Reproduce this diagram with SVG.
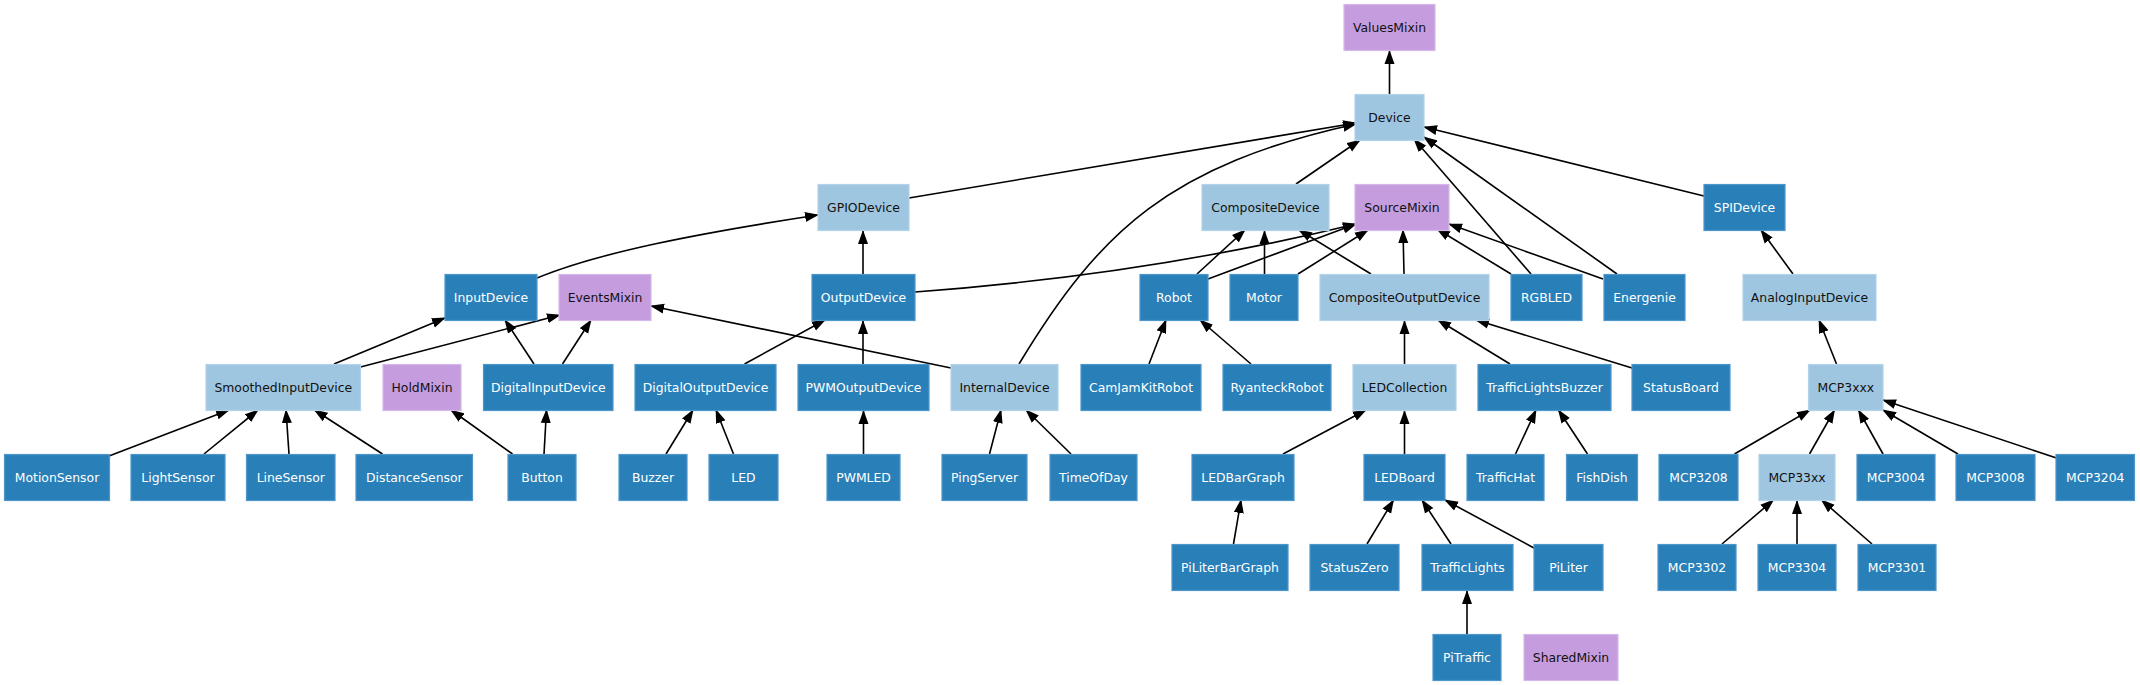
<svg xmlns="http://www.w3.org/2000/svg" width="2140" height="685" viewBox="0 0 2140 685">
<style>
rect{stroke-width:1.2}
.d rect{fill:#2980b9;stroke:#4f97cb}
.l rect{fill:#9fc6e0;stroke:#b3d3ea}
.m rect{fill:#c59ddf;stroke:#d6b8ea}
text{font-family:"DejaVu Sans",sans-serif;font-size:12.4px;text-anchor:middle}
.d text{fill:#ffffff}
.l text,.m text{fill:#111111}
#edges path{fill:none;stroke:#000;stroke-width:1.6;marker-end:url(#arr)}
</style>
<defs>
<marker id="arr" markerUnits="userSpaceOnUse" markerWidth="15" markerHeight="11" viewBox="0 -5.5 15 11" refX="13" refY="0" orient="auto"><path d="M0,-5 L14,0 L0,5 z" fill="#000"/></marker>
</defs>
<rect width="2140" height="685" fill="#fff"/>
<g id="edges">
<path d="M1389.5,94 L1389.5,51"/>
<path d="M909,198 L1356,123"/>
<path d="M1019,364 C1100,230 1170,165 1356,124"/>
<path d="M1296,184 L1360,140"/>
<path d="M1704,196 L1424,127"/>
<path d="M1531,274 L1414,139"/>
<path d="M1617,274 L1424,137"/>
<path d="M537,278 C600,252 700,233 818,215"/>
<path d="M863,274 L863,231"/>
<path d="M915,292 C1050,282 1200,262 1356,224"/>
<path d="M1197,274 L1245,230"/>
<path d="M1208,279 L1356,224"/>
<path d="M1264.5,274 L1264.5,231"/>
<path d="M1298,274 L1368,230"/>
<path d="M1371,274 L1299,230"/>
<path d="M1404,274 L1403,230"/>
<path d="M1511,274 L1437,229"/>
<path d="M1603,279 L1449,224"/>
<path d="M1793,274 L1761,230"/>
<path d="M334,364 L445,318"/>
<path d="M360.5,367 L560,315"/>
<path d="M534,364 L505,320"/>
<path d="M562.5,364 L591,320"/>
<path d="M951,368 L651,306"/>
<path d="M744.5,364 L825,320"/>
<path d="M863,364 L863,321"/>
<path d="M1149,364 L1166,320"/>
<path d="M1251,364 L1200,320"/>
<path d="M1404.5,364 L1404.5,321"/>
<path d="M1510,364 L1438,320"/>
<path d="M1632,368 L1476,320"/>
<path d="M1836.5,364 L1819,320"/>
<path d="M109,456 L229,410"/>
<path d="M204,454 L258,410"/>
<path d="M289,454 L286,410"/>
<path d="M382.5,454 L314.5,410"/>
<path d="M512.5,454 L451,410"/>
<path d="M544,454 L546.5,410"/>
<path d="M666,454 L693,410"/>
<path d="M733.5,454 L716,410"/>
<path d="M863.5,454 L863.5,411"/>
<path d="M989.5,454 L1001,410"/>
<path d="M1071,454 L1026,410"/>
<path d="M1283,454 L1366,410"/>
<path d="M1404.5,454 L1404.5,411"/>
<path d="M1515.5,454 L1536,410"/>
<path d="M1587.5,454 L1558.5,410"/>
<path d="M1734.5,454 L1810,410"/>
<path d="M1809.5,454 L1834.5,410"/>
<path d="M1883,454 L1858.5,410"/>
<path d="M1958,454 L1883,410"/>
<path d="M2056.5,458 L1883,400"/>
<path d="M1233.5,544 L1241,500"/>
<path d="M1367,544 L1393.5,500"/>
<path d="M1451,544 L1422,500"/>
<path d="M1534,548 L1445,500"/>
<path d="M1722,544 L1773.5,500"/>
<path d="M1797,544 L1797,501"/>
<path d="M1872,544 L1821.5,500"/>
<path d="M1467,634 L1467,591"/>
</g>
<g id="ValuesMixin" class="m"><rect x="1344" y="4.5" width="91" height="46"/><text x="1389.5" y="31.5">ValuesMixin</text></g>
<g id="Device" class="l"><rect x="1355" y="94.5" width="69" height="46"/><text x="1389.5" y="121.5">Device</text></g>
<g id="GPIODevice" class="l"><rect x="818" y="184.5" width="91" height="46"/><text x="863.5" y="211.5">GPIODevice</text></g>
<g id="CompositeDevice" class="l"><rect x="1202" y="184.5" width="127" height="46"/><text x="1265.5" y="211.5">CompositeDevice</text></g>
<g id="SourceMixin" class="m"><rect x="1355" y="184.5" width="94" height="46"/><text x="1402" y="211.5">SourceMixin</text></g>
<g id="SPIDevice" class="d"><rect x="1704" y="184.5" width="81" height="46"/><text x="1744.5" y="211.5">SPIDevice</text></g>
<g id="InputDevice" class="d"><rect x="445" y="274.5" width="92" height="46"/><text x="491" y="301.5">InputDevice</text></g>
<g id="EventsMixin" class="m"><rect x="559" y="274.5" width="92" height="46"/><text x="605" y="301.5">EventsMixin</text></g>
<g id="OutputDevice" class="d"><rect x="812" y="274.5" width="103" height="46"/><text x="863.5" y="301.5">OutputDevice</text></g>
<g id="Robot" class="d"><rect x="1140" y="274.5" width="68" height="46"/><text x="1174" y="301.5">Robot</text></g>
<g id="Motor" class="d"><rect x="1230" y="274.5" width="68" height="46"/><text x="1264" y="301.5">Motor</text></g>
<g id="CompositeOutputDevice" class="l"><rect x="1320" y="274.5" width="169" height="46"/><text x="1404.5" y="301.5">CompositeOutputDevice</text></g>
<g id="RGBLED" class="d"><rect x="1511" y="274.5" width="71" height="46"/><text x="1546.5" y="301.5">RGBLED</text></g>
<g id="Energenie" class="d"><rect x="1604" y="274.5" width="81" height="46"/><text x="1644.5" y="301.5">Energenie</text></g>
<g id="AnalogInputDevice" class="l"><rect x="1743" y="274.5" width="133" height="46"/><text x="1809.5" y="301.5">AnalogInputDevice</text></g>
<g id="SmoothedInputDevice" class="l"><rect x="206" y="364.5" width="154.5" height="46"/><text x="283.3" y="391.5">SmoothedInputDevice</text></g>
<g id="HoldMixin" class="m"><rect x="383" y="364.5" width="78" height="46"/><text x="422" y="391.5">HoldMixin</text></g>
<g id="DigitalInputDevice" class="d"><rect x="483.5" y="364.5" width="129.5" height="46"/><text x="548.3" y="391.5">DigitalInputDevice</text></g>
<g id="DigitalOutputDevice" class="d"><rect x="635" y="364.5" width="141" height="46"/><text x="705.5" y="391.5">DigitalOutputDevice</text></g>
<g id="PWMOutputDevice" class="d"><rect x="798" y="364.5" width="131" height="46"/><text x="863.5" y="391.5">PWMOutputDevice</text></g>
<g id="InternalDevice" class="l"><rect x="951" y="364.5" width="107" height="46"/><text x="1004.5" y="391.5">InternalDevice</text></g>
<g id="CamJamKitRobot" class="d"><rect x="1081" y="364.5" width="120" height="46"/><text x="1141" y="391.5">CamJamKitRobot</text></g>
<g id="RyanteckRobot" class="d"><rect x="1223" y="364.5" width="108" height="46"/><text x="1277" y="391.5">RyanteckRobot</text></g>
<g id="LEDCollection" class="l"><rect x="1353" y="364.5" width="103" height="46"/><text x="1404.5" y="391.5">LEDCollection</text></g>
<g id="TrafficLightsBuzzer" class="d"><rect x="1478" y="364.5" width="133" height="46"/><text x="1544.5" y="391.5">TrafficLightsBuzzer</text></g>
<g id="StatusBoard" class="d"><rect x="1632" y="364.5" width="98" height="46"/><text x="1681" y="391.5">StatusBoard</text></g>
<g id="MCP3xxx" class="l"><rect x="1808.5" y="364.5" width="74.5" height="46"/><text x="1845.8" y="391.5">MCP3xxx</text></g>
<g id="MotionSensor" class="d"><rect x="4.5" y="454.5" width="105" height="46"/><text x="57" y="481.5">MotionSensor</text></g>
<g id="LightSensor" class="d"><rect x="131" y="454.5" width="94" height="46"/><text x="178" y="481.5">LightSensor</text></g>
<g id="LineSensor" class="d"><rect x="246.5" y="454.5" width="88.5" height="46"/><text x="290.8" y="481.5">LineSensor</text></g>
<g id="DistanceSensor" class="d"><rect x="356" y="454.5" width="116.5" height="46"/><text x="414.3" y="481.5">DistanceSensor</text></g>
<g id="Button" class="d"><rect x="508" y="454.5" width="68" height="46"/><text x="542" y="481.5">Button</text></g>
<g id="Buzzer" class="d"><rect x="619" y="454.5" width="68" height="46"/><text x="653" y="481.5">Buzzer</text></g>
<g id="LED" class="d"><rect x="709" y="454.5" width="69" height="46"/><text x="743.5" y="481.5">LED</text></g>
<g id="PWMLED" class="d"><rect x="827" y="454.5" width="73" height="46"/><text x="863.5" y="481.5">PWMLED</text></g>
<g id="PingServer" class="d"><rect x="942" y="454.5" width="85" height="46"/><text x="984.5" y="481.5">PingServer</text></g>
<g id="TimeOfDay" class="d"><rect x="1050" y="454.5" width="87" height="46"/><text x="1093.5" y="481.5">TimeOfDay</text></g>
<g id="LEDBarGraph" class="d"><rect x="1192" y="454.5" width="102" height="46"/><text x="1243" y="481.5">LEDBarGraph</text></g>
<g id="LEDBoard" class="d"><rect x="1364" y="454.5" width="81" height="46"/><text x="1404.5" y="481.5">LEDBoard</text></g>
<g id="TrafficHat" class="d"><rect x="1467" y="454.5" width="77" height="46"/><text x="1505.5" y="481.5">TrafficHat</text></g>
<g id="FishDish" class="d"><rect x="1566.5" y="454.5" width="71" height="46"/><text x="1602" y="481.5">FishDish</text></g>
<g id="MCP3208" class="d"><rect x="1659" y="454.5" width="79" height="46"/><text x="1698.5" y="481.5">MCP3208</text></g>
<g id="MCP33xx" class="l"><rect x="1759" y="454.5" width="76" height="46"/><text x="1797" y="481.5">MCP33xx</text></g>
<g id="MCP3004" class="d"><rect x="1857" y="454.5" width="78" height="46"/><text x="1896" y="481.5">MCP3004</text></g>
<g id="MCP3008" class="d"><rect x="1956" y="454.5" width="79" height="46"/><text x="1995.5" y="481.5">MCP3008</text></g>
<g id="MCP3204" class="d"><rect x="2056" y="454.5" width="78.5" height="46"/><text x="2095.3" y="481.5">MCP3204</text></g>
<g id="PiLiterBarGraph" class="d"><rect x="1172" y="544.5" width="116" height="46"/><text x="1230" y="571.5">PiLiterBarGraph</text></g>
<g id="StatusZero" class="d"><rect x="1310" y="544.5" width="89" height="46"/><text x="1354.5" y="571.5">StatusZero</text></g>
<g id="TrafficLights" class="d"><rect x="1422" y="544.5" width="91" height="46"/><text x="1467.5" y="571.5">TrafficLights</text></g>
<g id="PiLiter" class="d"><rect x="1534" y="544.5" width="69" height="46"/><text x="1568.5" y="571.5">PiLiter</text></g>
<g id="MCP3302" class="d"><rect x="1658" y="544.5" width="78" height="46"/><text x="1697" y="571.5">MCP3302</text></g>
<g id="MCP3304" class="d"><rect x="1758" y="544.5" width="78" height="46"/><text x="1797" y="571.5">MCP3304</text></g>
<g id="MCP3301" class="d"><rect x="1858" y="544.5" width="78" height="46"/><text x="1897" y="571.5">MCP3301</text></g>
<g id="PiTraffic" class="d"><rect x="1433" y="634.5" width="68" height="46"/><text x="1467" y="661.5">PiTraffic</text></g>
<g id="SharedMixin" class="m"><rect x="1524" y="634.5" width="94" height="46"/><text x="1571" y="661.5">SharedMixin</text></g>
</svg>
